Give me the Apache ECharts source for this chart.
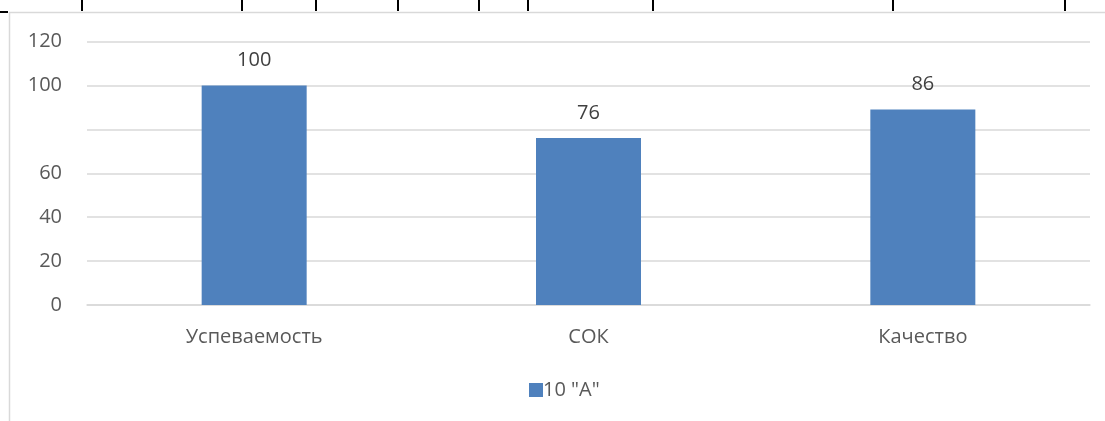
<!DOCTYPE html>
<html>
<head>
<meta charset="utf-8">
<script src="https://cdn.jsdelivr.net/npm/echarts@6/dist/echarts.min.js"></script>
<style>
html,body{margin:0;padding:0;background:#fff;}
#c{width:1105px;height:421px;}
</style>
</head>
<body>
<div id="c"></div>
<script>
var categories = ['Успеваемость', 'СОК', 'Качество'];
var seriesName = '10 "А"';
var values = [100, 76, 89];
var valueLabels = ['100', '76', '86'];
var yTickLabels = {0: '0', 20: '20', 40: '40', 60: '60', 80: '', 100: '100', 120: '120'};
var topTableTicks = [82, 242, 316, 398, 479, 528, 653, 893, 1065];

var FONT = '"Open Sans", "Noto Sans", sans-serif';
var FS = 20;
var chart = echarts.init(document.getElementById('c'), null, {renderer: 'canvas'});

var graphics = [
  {type: 'line', shape: {x1: 9, y1: 12.5, x2: 1105, y2: 12.5}, style: {stroke: '#d9d9d9', lineWidth: 1.5}, silent: true},
  {type: 'line', shape: {x1: 9.5, y1: 12, x2: 9.5, y2: 421}, style: {stroke: '#d9d9d9', lineWidth: 1.5}, silent: true},
  {type: 'line', shape: {x1: 0, y1: 12, x2: 8, y2: 12}, style: {stroke: '#000', lineWidth: 2}, silent: true}
];
topTableTicks.forEach(function (x) {
  graphics.push({type: 'line', shape: {x1: x, y1: 0, x2: x, y2: 11}, style: {stroke: '#000', lineWidth: 2}, silent: true});
});

chart.setOption({
  animation: false,
  backgroundColor: '#fff',
  textStyle: {fontFamily: FONT},
  graphic: graphics,
  grid: {left: 87, right: 15, top: 41.5, bottom: 116, containLabel: false},
  legend: {
    data: [seriesName],
    left: 529, top: 380, padding: 0,
    icon: 'rect', itemWidth: 14, itemHeight: 14, itemGap: 0,
    textStyle: {fontSize: FS, color: '#595959', fontFamily: FONT, padding: [0, 0, 0, -5]}
  },
  xAxis: {
    type: 'category',
    data: categories,
    axisLine: {show: true, lineStyle: {color: '#d9d9d9', width: 1.5}},
    axisTick: {show: false},
    axisLabel: {fontSize: FS, color: '#595959', margin: 22, fontFamily: FONT}
  },
  yAxis: {
    type: 'value',
    min: 0, max: 120, interval: 20,
    axisLine: {show: false},
    axisTick: {show: false},
    splitLine: {lineStyle: {color: '#d9d9d9', width: 1.5}},
    axisLabel: {
      fontSize: FS, color: '#595959', margin: 25, fontFamily: FONT,
      formatter: function (v) { return yTickLabels[v] !== undefined ? yTickLabels[v] : String(v); }
    }
  },
  series: [{
    name: seriesName,
    type: 'bar',
    data: values,
    barWidth: 105,
    itemStyle: {color: '#4f81bd'},
    label: {
      show: true, position: 'top', distance: 15,
      fontSize: FS, color: '#404040', fontFamily: FONT,
      formatter: function (p) { return valueLabels[p.dataIndex]; }
    }
  }]
});
</script>
</body>
</html>
